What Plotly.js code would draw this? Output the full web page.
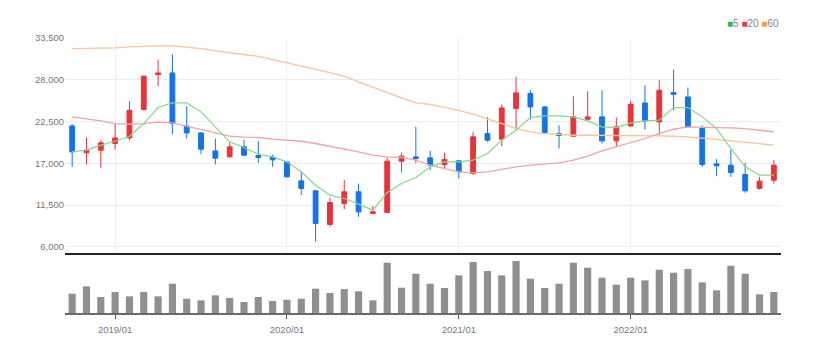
<!DOCTYPE html>
<html>
<head>
<meta charset="utf-8">
<script src="https://cdn.plot.ly/plotly-3.0.1.min.js"></script>
<style>html,body{margin:0;padding:0;background:#fff;}#chart{width:824px;height:352px;}</style>
</head>
<body>
<div id="chart"></div>
<script>
const months = ["2018/10","2018/11","2018/12","2019/01","2019/02","2019/03","2019/04","2019/05","2019/06","2019/07","2019/08","2019/09",
"2019/10","2019/11","2019/12","2020/01","2020/02","2020/03","2020/04","2020/05","2020/06","2020/07","2020/08","2020/09",
"2020/10","2020/11","2020/12","2021/01","2021/02","2021/03","2021/04","2021/05","2021/06","2021/07","2021/08","2021/09",
"2021/10","2021/11","2021/12","2022/01","2022/02","2022/03","2022/04","2022/05","2022/06","2022/07","2022/08","2022/09",
"2022/10","2022/11"];
const openP  = [21920,18370,18720,19600,20340,24070,28680,28900,21920,21000,18630,17840,19160,18020,17800,17180,14680,13370,8940,11700,13240,10390,10520,17270,17840,17710,16830,17320,15650,20910,20170,24200,26180,24420,20910,20560,22800,23110,19950,21920,24950,22450,26310,25740,21570,16920,16750,15520,13680,14770];
const highP  = [22140,20390,20040,22230,25170,28550,30650,31350,24510,21090,20260,19730,20120,19900,18150,17270,15870,13460,12450,14770,14330,11390,17710,18410,21790,18630,18410,17400,21130,23110,24730,28370,26620,24510,22010,25830,26490,26620,23020,25210,27280,27930,29340,26970,22010,17540,18810,17050,15210,17400];
const lowP   = [16530,16830,16440,18810,20040,23980,27140,20830,20260,18190,16830,17760,17970,17050,16530,15120,12800,6660,8630,10960,9950,10300,10430,15780,17050,16090,16310,14990,15430,19820,19250,21350,22760,20910,18940,20480,22580,19600,19160,21790,21440,20690,23980,21700,16530,15340,15210,13110,13540,14330];
const closeP = [18500,18720,19690,20340,23980,28460,28900,22230,21000,18850,17670,19160,18060,17760,17450,15210,13680,9070,11830,13240,10600,10600,17270,17930,17620,16750,17490,15870,20480,20040,24290,26270,24420,21050,20650,23110,23110,19950,21790,24770,22580,26620,26090,21790,16830,16660,15780,13370,14640,16750];
const ma5  = [18500,18720,19380,19900,20560,22230,24340,24950,24950,23770,21790,19820,19070,18190,17840,17180,15870,14110,12800,12360,11610,10820,13150,14330,15120,16530,17180,17180,17400,18280,20040,21350,23020,23240,23240,23110,22580,21790,21700,22320,22580,22670,24340,24340,23110,21570,18940,16530,15430,15430];
const ma20 = [23110,22890,22580,22230,22140,22230,22410,22320,21880,21350,20910,20560,20430,20390,20170,20040,19900,19600,19250,18900,18500,18060,17840,17760,17400,16750,16310,15870,15740,15870,16180,16530,16750,16880,17050,17400,17930,18630,19160,19690,20260,20910,21480,21790,21790,21700,21660,21570,21350,21130];
const ma60 = [32100,32100,32100,32190,32320,32410,32450,32450,32320,32100,31790,31530,31350,31090,30650,30260,29820,29380,28940,28460,27710,26970,26310,25610,24950,24770,24420,23980,23460,22890,22230,21570,21130,20910,20780,20690,20690,20690,20690,20690,20650,20610,20560,20480,20300,20120,19950,19820,19600,19380];
const volume = [580000,800000,480000,630000,500000,630000,500000,880000,430000,380000,530000,450000,330000,480000,360000,400000,430000,730000,600000,720000,650000,380000,1510000,760000,1180000,880000,750000,1130000,1530000,1260000,1130000,1560000,1030000,750000,880000,1510000,1360000,1060000,850000,1060000,980000,1300000,1210000,1320000,920000,680000,1420000,1180000,560000,630000];
const yTicks = [6000,11500,17000,22500,28000,33500];
const yTickText = ["6,000","11,500","17,000","22,500","28,000","33,500"];
const xTicks = ["2019/01","2020/01","2021/01","2022/01"];
const maLabels = ["5","20","60"];

const RED = '#e8333b', BLUE = '#1673e6';
const font = "'Liberation Sans Narrow', 'Liberation Sans', sans-serif";

const traces = [
  {type:'candlestick', x:months, open:openP, high:highP, low:lowP, close:closeP, xaxis:'x', yaxis:'y',
   increasing:{line:{color:RED,width:1}, fillcolor:RED}, decreasing:{line:{color:BLUE,width:1}, fillcolor:BLUE},
   whiskerwidth:0, showlegend:false, hoverinfo:'skip'},
  {type:'scatter', mode:'lines', x:months, y:ma60, xaxis:'x', yaxis:'y', line:{color:'#f9c49a', width:1.3}, showlegend:false, hoverinfo:'skip'},
  {type:'scatter', mode:'lines', x:months, y:ma20, xaxis:'x', yaxis:'y', line:{color:'#f3a3a6', width:1.3}, showlegend:false, hoverinfo:'skip'},
  {type:'scatter', mode:'lines', x:months, y:ma5, xaxis:'x', yaxis:'y', line:{color:'#86d886', width:1.2}, showlegend:false, hoverinfo:'skip'},
  {type:'bar', x:months, y:volume, xaxis:'x2', yaxis:'y2', marker:{color:'#8f8f8f'}, width:0.5, showlegend:false, hoverinfo:'skip'}
];

const layout = {
  width:824, height:352,
  margin:{l:65, r:43, t:38, b:39},
  paper_bgcolor:'#fff', plot_bgcolor:'#fff',
  font:{family:font, size:9, color:'#777'},
  boxgap:0.52,
  showlegend:false,
  xaxis:{type:'category', range:[-0.5,49.5], domain:[0,1], anchor:'y', matches:'x2',
    rangeslider:{visible:false}, tickvals:xTicks, showticklabels:false, ticks:'',
    showgrid:true, gridcolor:'#efefef', gridwidth:1,
    showline:true, linecolor:'#222', linewidth:2, zeroline:false, fixedrange:true},
  yaxis:{domain:[0.218,1], range:[5170,33500], tickvals:yTicks, ticktext:yTickText,
    showgrid:true, gridcolor:'#ececec', gridwidth:1, zeroline:false, showline:false,
    ticks:'', ticklen:0, tickfont:{family:font, size:9.5, color:'#777'}},
  xaxis2:{type:'category', range:[-0.5,49.5], domain:[0,1], anchor:'y2',
    tickvals:xTicks, ticktext:xTicks, ticks:'outside', ticklen:4, tickcolor:'#555', tickwidth:1,
    ticklabelstandoff:3,
    showgrid:false, showline:true, linecolor:'#6a6a6a', linewidth:1.5, zeroline:false,
    tickfont:{family:font, size:9.5, color:'#777'}},
  yaxis2:{domain:[0,0.218], range:[0,1800000], showticklabels:false, showgrid:false, zeroline:false, showline:false, ticks:''},
  annotations:[{
    xref:'paper', yref:'paper', x:1, y:1.051, xanchor:'right', yanchor:'middle', showarrow:false,
    text:'<span style="color:#2cbb3a">■</span>'+maLabels[0]+' <span style="color:#ee3344">■</span>'+maLabels[1]+' <span style="color:#ff9a3a">■</span>'+maLabels[2],
    font:{family:font, size:10, color:'#888'}
  }]
};

Plotly.newPlot('chart', traces, layout, {displayModeBar:false, staticPlot:true});
</script>
</body>
</html>
